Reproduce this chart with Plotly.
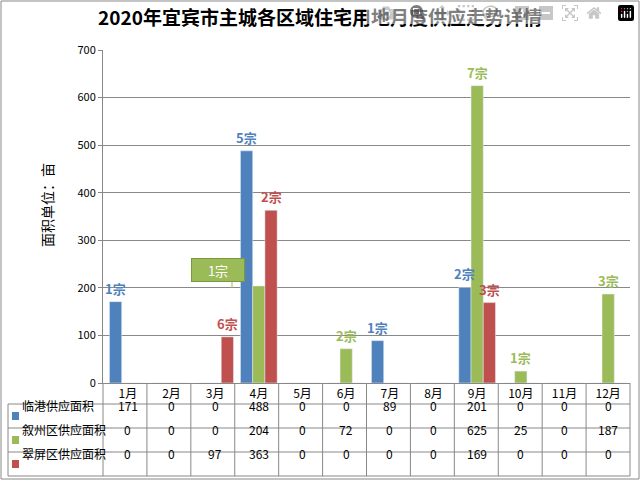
import plotly.graph_objects as go

months = ["1月", "2月", "3月", "4月", "5月", "6月", "7月", "8月", "9月", "10月", "11月", "12月"]
series = ["临港供应面积", "叙州区供应面积", "翠屏区供应面积"]
lingang = [171, 0, 0, 488, 0, 0, 89, 0, 201, 0, 0, 0]
xuzhou = [0, 0, 0, 204, 0, 72, 0, 0, 625, 25, 0, 187]
cuiping = [0, 0, 97, 363, 0, 0, 0, 0, 169, 0, 0, 0]
lingang_lbl = ["1宗", "", "", "5宗", "", "", "1宗", "", "2宗", "", "", ""]
xuzhou_lbl = ["", "", "", "", "", "2宗", "", "", "7宗", "1宗", "", "3宗"]
cuiping_lbl = ["", "", "6宗", "2宗", "", "", "", "", "3宗", "", "", ""]
colors = ["#4F81BD", "#9BBB59", "#C0504D"]

W, H = 640, 480
L, R, T, B = 103, 10, 50, 97
pw, ph = W - L - R, H - T - B
px = lambda x: (x - L) / pw
py = lambda y: (H - B - y) / ph
bargap = 0.16
bw = (1 - bargap) * pw / 12 / 3

fig = go.Figure()
shapes, ann = [], []
for k, (vals, lbl, col, name) in enumerate(zip([lingang, xuzhou, cuiping],
                                               [lingang_lbl, xuzhou_lbl, cuiping_lbl], colors, series)):
    fig.add_trace(go.Bar(x=months, y=vals, name=name, marker_color=col, showlegend=False))
    for i, t in enumerate(lbl):
        if t:
            ann.append(dict(text=f"<b>{t}</b>", x=months[i], y=vals[i], xref="x", yref="y",
                            xshift=(k - 1) * bw, yanchor="bottom", yshift=2, showarrow=False,
                            font=dict(color=col, size=13)))

# table grid
rows_y = [383, 404, 428, 452, 476]
for y in rows_y[1:]:
    shapes.append(dict(type="line", xref="paper", yref="paper", x0=px(8), x1=px(630), y0=py(y), y1=py(y),
                       line=dict(color="#888", width=1)))
for i in range(13):
    x = L + i * pw / 12
    shapes.append(dict(type="line", xref="paper", yref="paper", x0=px(x), x1=px(x), y0=py(383), y1=py(476),
                       line=dict(color="#888", width=1)))
shapes.append(dict(type="line", xref="paper", yref="paper", x0=px(8), x1=px(8), y0=py(404), y1=py(476),
                   line=dict(color="#888", width=1)))
for r, (vals, col, name) in enumerate(zip([lingang, xuzhou, cuiping], colors, series)):
    yc = (rows_y[r + 1] + rows_y[r + 2]) / 2
    shapes.append(dict(type="rect", xref="paper", yref="paper", x0=px(12), x1=px(19), y0=py(yc + 4), y1=py(yc - 4),
                       fillcolor=col, line=dict(width=0)))
    ann.append(dict(text=name, xref="paper", yref="paper", x=px(20), y=py(yc), xanchor="left", showarrow=False,
                    font=dict(size=12, color="#000")))
    for i, v in enumerate(vals):
        ann.append(dict(text=str(v), xref="x", yref="paper", x=months[i], y=py(yc), showarrow=False,
                        font=dict(size=12, color="#000")))
# callout for April 叙州
ann.append(dict(text="1宗", xref="paper", yref="paper", x=px(191), y=py(270), showarrow=False,
                bgcolor="#9BBB59", bordercolor="#7A9A3A", font=dict(color="white", size=13),
                width=50, height=20))
shapes.append(dict(type="path", xref="paper", yref="paper",
                   path=f"M {px(216)} {py(272)} L {px(232)} {py(272)} L {px(232)} {py(288)}",
                   line=dict(color="#9BBB59", width=1)))
ann.append(dict(text="面积单位：亩", xref="paper", yref="paper", x=px(35), y=py(205), textangle=-90,
                showarrow=False, font=dict(size=14, color="#000")))
shapes.append(dict(type="rect", xref="paper", yref="paper", x0=px(1), x1=px(639), y0=py(479), y1=py(1),
                   line=dict(color="#888", width=1)))

fig.update_layout(
    width=W, height=H, margin=dict(l=L, r=R, t=T, b=B),
    paper_bgcolor="white", plot_bgcolor="white",
    font=dict(family="Noto Sans CJK SC", size=12, color="#000"),
    title=dict(text="<b>2020年宜宾市主城各区域住宅用地月度供应走势详情</b>", x=0.5, y=0.975,
               xanchor="center", font=dict(size=19)),
    barmode="group", bargap=bargap, bargroupgap=0.0,
    xaxis=dict(showline=True, linecolor="#888", ticks="", tickfont=dict(size=12)),
    yaxis=dict(range=[0, 700], dtick=100, showgrid=True, gridcolor="#888", showline=True,
               linecolor="#888", ticks="outside", tickcolor="#888", ticklen=4, tickfont=dict(size=11)),
    shapes=shapes, annotations=ann,
)
fig.write_html("out.html", post_script="document.body.style.margin='0';document.body.style.overflow='hidden';")
